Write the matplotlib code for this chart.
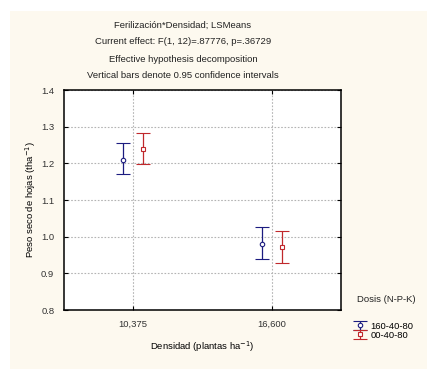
import matplotlib
matplotlib.use("Agg")
from matplotlib import pyplot as plt
from matplotlib.patches import Rectangle

plt.rcParams['font.family'] = ['Liberation Sans', 'DejaVu Sans']

# datos
densidades = ['10,375', '16,600']
dosis = ['160-40-80', '00-40-80']
medias = [[1.21, 0.98], [1.24, 0.971]]
ic_inf = [[1.17, 0.94], [1.197, 0.928]]
ic_sup = [[1.256, 1.026], [1.283, 1.015]]
colores = ['#1c1c80', '#c0282c']
marcadores = ['o', 's']
titulo = ['Ferilización*Densidad; LSMeans',
          'Current effect: F(1, 12)=.87776, p=.36729',
          'Effective hypothesis decomposition',
          'Vertical bars denote 0.95 confidence intervals']

fs = 6.8

fig = plt.figure(figsize=(4.4, 3.77), dpi=100)
fig.patch.set_facecolor('white')
# fondo crema
fig.patches.append(Rectangle((10 / 440, 0.02), 417 / 440, 1 - 11 / 377 - 0.02,
                             transform=fig.transFigure, facecolor='#fdf9ef',
                             edgecolor='none', zorder=-1))

ax = fig.add_axes([64 / 440, 67 / 377, 277 / 440, 220 / 377])
ax.set_facecolor('white')

offs = [-0.072, 0.072]
handles = []
for i in range(len(dosis)):
    xs = [j + 1 + offs[i] for j in range(len(densidades))]
    err = [[m - lo for m, lo in zip(medias[i], ic_inf[i])],
           [hi - m for m, hi in zip(medias[i], ic_sup[i])]]
    h = ax.errorbar(xs, medias[i], yerr=err, fmt=marcadores[i], color=colores[i],
                    ms=3.2, mfc='white', mec=colores[i], mew=0.8,
                    ecolor=colores[i], elinewidth=0.9, capsize=5, capthick=0.9,
                    linestyle='none')
    handles.append(h)

ax.set_xlim(0.5, 2.5)
ax.set_ylim(0.8, 1.4)
ax.set_xticks([1, 2])
ax.set_xticklabels(densidades)
ax.set_yticks([0.8, 0.9, 1.0, 1.1, 1.2, 1.3, 1.4])
ax.set_yticklabels(['0.8', '0.9', '1.0', '1.1', '1.2', '1.3', '1.4'])
ax.tick_params(direction='in', length=3, width=0.8, labelsize=fs,
               top=True, right=True, colors='black', labelcolor='#333333')
ax.tick_params(axis='y', pad=7)
ax.tick_params(axis='x', pad=7)
ax.grid(True, color='#b4b4b4', linestyle=(0, (1.5, 1.5)), linewidth=0.8)
ax.set_axisbelow(True)
for s in ax.spines.values():
    s.set_linewidth(1.1)

ax.set_xlabel('Densidad (plantas ha$^{-1}$)', fontsize=fs, labelpad=8)
ax.set_ylabel('Peso seco de hojas (tha$^{-1}$)', fontsize=fs, labelpad=2)

for k, t in enumerate(titulo):
    fig.text(183 / 440, 1 - (25 + 17 * k) / 377, t, ha='center', va='center',
             fontsize=fs, color='#222222')

fig.text(386 / 440, 1 - 300 / 377, 'Dosis (N-P-K)', ha='center', va='center',
         fontsize=fs, color='#222222')
ax.legend(handles, dosis, loc='upper left', bbox_to_anchor=(348 / 440, 1 - 317 / 377),
          bbox_transform=fig.transFigure, frameon=False, fontsize=fs,
          handlelength=1.5, handletextpad=0.4, labelspacing=0.0, borderpad=0)

fig.savefig('out.png', dpi=100, facecolor=fig.get_facecolor())
